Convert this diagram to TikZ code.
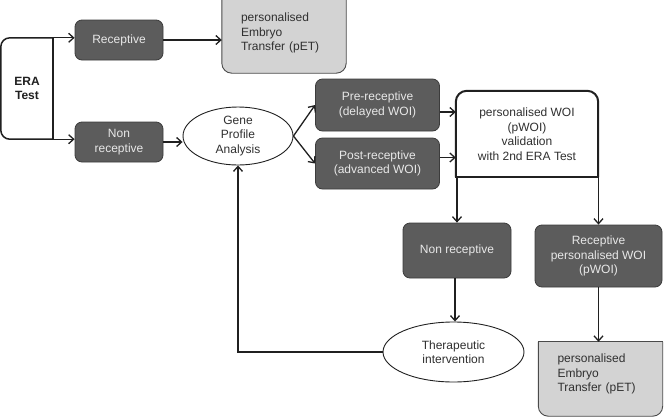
\documentclass[tikz,border=0pt]{standalone}
\usepackage{fontspec}
\setmainfont{Liberation Sans}
\usetikzlibrary{arrows.meta,shapes.geometric,calc}
\definecolor{darkbox}{HTML}{5C5C5C}
\definecolor{darkedge}{HTML}{3C3C3C}
\definecolor{lightbox}{HTML}{D3D3D3}
\definecolor{lightedge}{HTML}{4A4A4A}
\definecolor{lbltext}{HTML}{E8E8E8}
\definecolor{ink}{HTML}{202020}
\definecolor{bodytext}{HTML}{303030}
\tikzset{
  every node/.style={font=\fontsize{12}{14.5}\selectfont, inner sep=0pt},
  darkstep/.style={draw=darkedge, fill=darkbox, text=lbltext, rounded corners=7pt,
    line width=0.8pt, align=center},
  lightarea/.style={draw=none, align=left, text=bodytext},
  oval/.style={ellipse, draw=ink, fill=white, line width=0.9pt, align=center, text=bodytext},
  arr/.style={draw=ink, line width=1.3pt, -{Straight Barb[length=5pt,width=9pt]}},
}
\begin{document}
\begin{tikzpicture}[x=1pt,y=-1pt]
\useasboundingbox (0,0) rectangle (665,416);
\fill[white] (0,0) rectangle (665,416);

% ERA test
\node[align=center, font=\fontsize{12}{14.5}\selectfont\bfseries, text=ink,
      minimum width=52pt, minimum height=101pt] (era) at (27,88.5) {ERA\\Test};
\draw[ink, line width=1.5pt, rounded corners=9pt]
  (era.north east) -- (era.north west) -- (era.south west) -- (era.south east);
\draw[ink, line width=1.5pt] (era.north east) -- (era.south east);

% first level
\node[darkstep, minimum width=88pt, minimum height=40pt] (rec) at (119,40) {Receptive};
\node[darkstep, minimum width=88pt, minimum height=40pt] (nonrec) at (119,142) {Non\\receptive};

% top pET
\node[lightarea, minimum width=124pt, minimum height=80pt] (pet1) at (284,33) {};
\filldraw[fill=lightbox, draw=lightedge, line width=0.9pt, rounded corners=10pt]
  ([yshift=20pt]pet1.north west) -- (pet1.south west) -- (pet1.south east) -- ([yshift=20pt]pet1.north east);
\node[lightarea, text width=86pt] at (pet1.center)
  {personalised\\Embryo\\Transfer (pET)};

% gene profile analysis
\node[oval, minimum width=110pt, minimum height=58pt] (gene) at (238,136)
  {Gene\\Profile\\Analysis};

% pre / post receptive
\node[darkstep, minimum width=124pt, minimum height=52pt] (pre) at (377.5,105)
  {Pre-receptive\\(delayed WOI)};
\node[darkstep, minimum width=124pt, minimum height=51pt] (post) at (377.5,163.5)
  {Post-receptive\\(advanced WOI)};

% pWOI validation
\node[minimum width=142pt, minimum height=86pt] (pwoi) at (527,134) {};
\filldraw[fill=white, draw=ink, line width=2pt, rounded corners=11pt]
  (pwoi.south west) -- (pwoi.north west) -- (pwoi.north east) -- (pwoi.south east);
\draw[ink, line width=2pt, line cap=rect] (pwoi.south west) -- (pwoi.south east);
\node[align=center, text=bodytext] at (pwoi.center)
  {personalised WOI\\(pWOI)\\validation\\with 2nd ERA Test};

% second level
\node[darkstep, minimum width=108pt, minimum height=55pt] (nonrec2) at (457,250.5)
  {Non receptive};
\node[darkstep, minimum width=127pt, minimum height=62pt] (recp) at (598.5,256)
  {Receptive\\personalised WOI\\(pWOI)};

% therapeutic intervention
\node[oval, minimum width=141pt, minimum height=60pt] (ther) at (453.5,352)
  {Therapeutic\\intervention};

% bottom pET
\node[lightarea, minimum width=124pt, minimum height=64pt] (pet2) at (600.5,374) {};
\filldraw[fill=lightbox, draw=lightedge, line width=0.9pt, rounded corners=10pt]
  (pet2.north west) -- ([yshift=-10pt]pet2.south west) -- ([yshift=-10pt]pet2.south east) -- (pet2.north east);
\draw[lightedge, line width=0.9pt, line cap=rect] (pet2.north west) -- (pet2.north east);
\node[lightarea, text width=86pt] at (pet2.center)
  {personalised\\Embryo\\Transfer (pET)};

% connectors
\draw[arr] (era.north east) -- (era.north east -| rec.west);
\draw[arr] (era.south east) -- (era.south east -| nonrec.west);
\draw[arr] (rec.east) -- (rec.east -| pet1.west);
\draw[arr] (nonrec.east) -- (nonrec.east -| gene.west);
\draw[arr] (gene.east) -- (pre.west);
\draw[arr] (gene.east) -- (post.west);
\draw[arr] ([yshift=-7pt]pre.east) -- ([yshift=-7pt]pre.east -| pwoi.west);
\draw[arr] ([yshift=6pt]post.east) -- ([yshift=6pt]post.east -| pwoi.west);
\draw[arr] (nonrec2.north |- pwoi.south) -- (nonrec2.north);
\draw[arr] (recp.north |- pwoi.south) -- (recp.north);
\draw[arr] (recp.south) -- (recp.south |- pet2.north);
\draw[arr] ([xshift=-2pt]nonrec2.south) -- ([xshift=-2pt]nonrec2.south |- ther.north);
\draw[arr] (ther.west) -| (gene.south);
\end{tikzpicture}
\end{document}
